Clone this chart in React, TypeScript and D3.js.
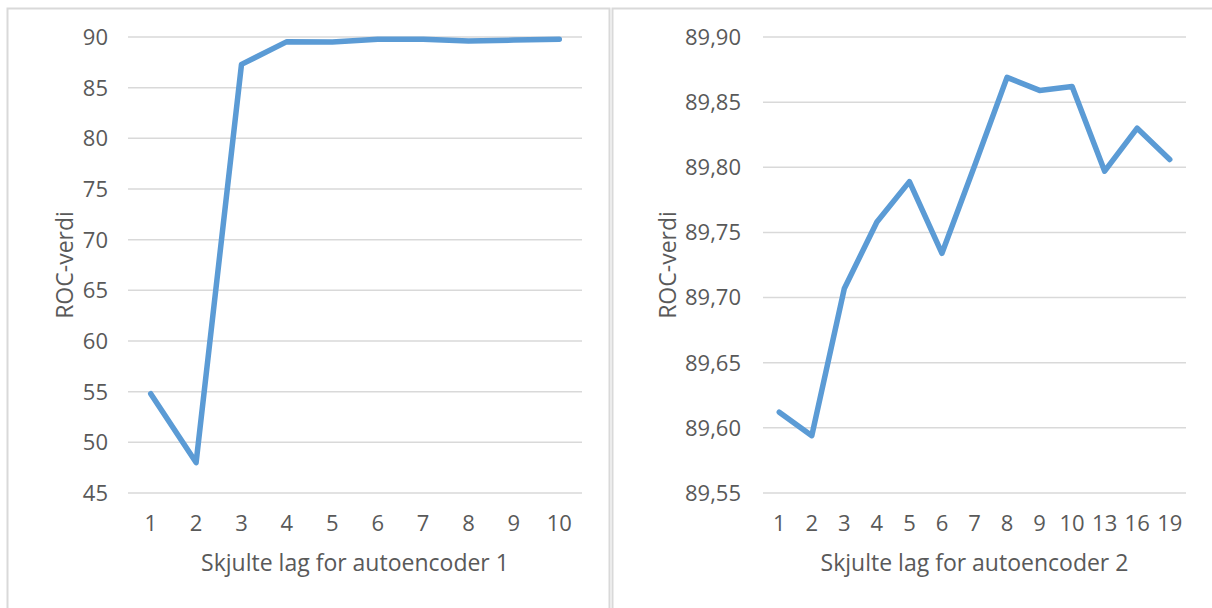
import React from "react";
import * as d3 from "d3";

// Autoencoder 1: number of hidden layers vs ROC value
const layers1 = ["1", "2", "3", "4", "5", "6", "7", "8", "9", "10"];
const roc1 = [54.8, 48.0, 87.3, 89.54, 89.5, 89.77, 89.77, 89.6, 89.7, 89.77];
const ticks1 = [45, 50, 55, 60, 65, 70, 75, 80, 85, 90];

// Autoencoder 2: number of hidden layers vs ROC value
const layers2 = ["1", "2", "3", "4", "5", "6", "7", "8", "9", "10", "13", "16", "19"];
const roc2 = [89.612, 89.594, 89.707, 89.758, 89.789, 89.734, 89.801, 89.869, 89.859, 89.862, 89.797, 89.83, 89.806];
const ticks2 = [89.55, 89.6, 89.65, 89.7, 89.75, 89.8, 89.85, 89.9];

const yTitle = "ROC-verdi";
const xTitle1 = "Skjulte lag for autoencoder 1";
const xTitle2 = "Skjulte lag for autoencoder 2";

const FONT = "'Open Sans', 'Noto Sans', sans-serif";
const TEXT = "#595959";
const GRID = "#d9d9d9";
const LINE = "#5b9bd5";
const FS = 22;
const FS_TITLE = 23;

const nbLocale = d3.formatLocale({ decimal: ",", thousands: " ", grouping: [3], currency: ["", " kr"] });

type PanelProps = {
  cats: string[];
  values: number[];
  ticks: number[];
  fmt: (v: number) => string;
  xTitle: string;
  left: number;
  right: number;
  yLabelX: number;
  yTitleX: number;
};

function Panel({ cats, values, ticks, fmt, xTitle, left, right, yLabelX, yTitleX }: PanelProps) {
  const top = 37;
  const bottom = 493;
  const x = d3.scaleBand<string>().domain(cats).range([left, right]).padding(0);
  const y = d3
    .scaleLinear()
    .domain([ticks[0], ticks[ticks.length - 1]])
    .range([bottom, top]);
  const cx = (c: string) => (x(c) as number) + x.bandwidth() / 2;
  const line = d3
    .line<number>()
    .x((_, i) => cx(cats[i]))
    .y((d) => y(d));
  const midX = (left + right) / 2;
  const midY = (top + bottom) / 2;
  return (
    <g>
      {ticks.map((t) => (
        <g key={t}>
          <line x1={left} x2={right} y1={y(t)} y2={y(t)} stroke={GRID} strokeWidth={1.5} />
          <text
            x={yLabelX}
            y={y(t)}
            dy="0.36em"
            textAnchor="end"
            fontFamily={FONT}
            fontSize={FS}
            fill={TEXT}
          >
            {fmt(t)}
          </text>
        </g>
      ))}
      {cats.map((c) => (
        <text
          key={c}
          x={cx(c)}
          y={531}
          textAnchor="middle"
          fontFamily={FONT}
          fontSize={FS}
          fill={TEXT}
        >
          {c}
        </text>
      ))}
      <path
        d={line(values) || ""}
        fill="none"
        stroke={LINE}
        strokeWidth={5.5}
        strokeLinejoin="round"
        strokeLinecap="round"
      />
      <text x={midX} y={571} textAnchor="middle" fontFamily={FONT} fontSize={FS_TITLE} fill={TEXT}>
        {xTitle}
      </text>
      <text
        transform={`translate(${yTitleX},${midY}) rotate(-90)`}
        textAnchor="middle"
        fontFamily={FONT}
        fontSize={FS_TITLE}
        fill={TEXT}
      >
        {yTitle}
      </text>
    </g>
  );
}

export default function App() {
  const fmt1 = (v: number) => d3.format("d")(v);
  const fmt2 = (v: number) => nbLocale.format(".2f")(v);
  return (
    <svg
      width={1212}
      height={608}
      style={{ position: "absolute", left: 0, top: 0, background: "#fff" }}
    >
      <rect x={0} y={0} width={1212} height={608} fill="#fff" />
      {/* chart frames */}
      <path d="M7.5,608 V8.5 H609.5 V608" fill="none" stroke={GRID} strokeWidth={2} />
      <path d="M612.5,608 V8.5 H1212" fill="none" stroke={GRID} strokeWidth={2} />
      <Panel
        cats={layers1}
        values={roc1}
        ticks={ticks1}
        fmt={fmt1}
        xTitle={xTitle1}
        left={128}
        right={582}
        yLabelX={108}
        yTitleX={73}
      />
      <Panel
        cats={layers2}
        values={roc2}
        ticks={ticks2}
        fmt={fmt2}
        xTitle={xTitle2}
        left={763}
        right={1186}
        yLabelX={741}
        yTitleX={676}
      />
    </svg>
  );
}
